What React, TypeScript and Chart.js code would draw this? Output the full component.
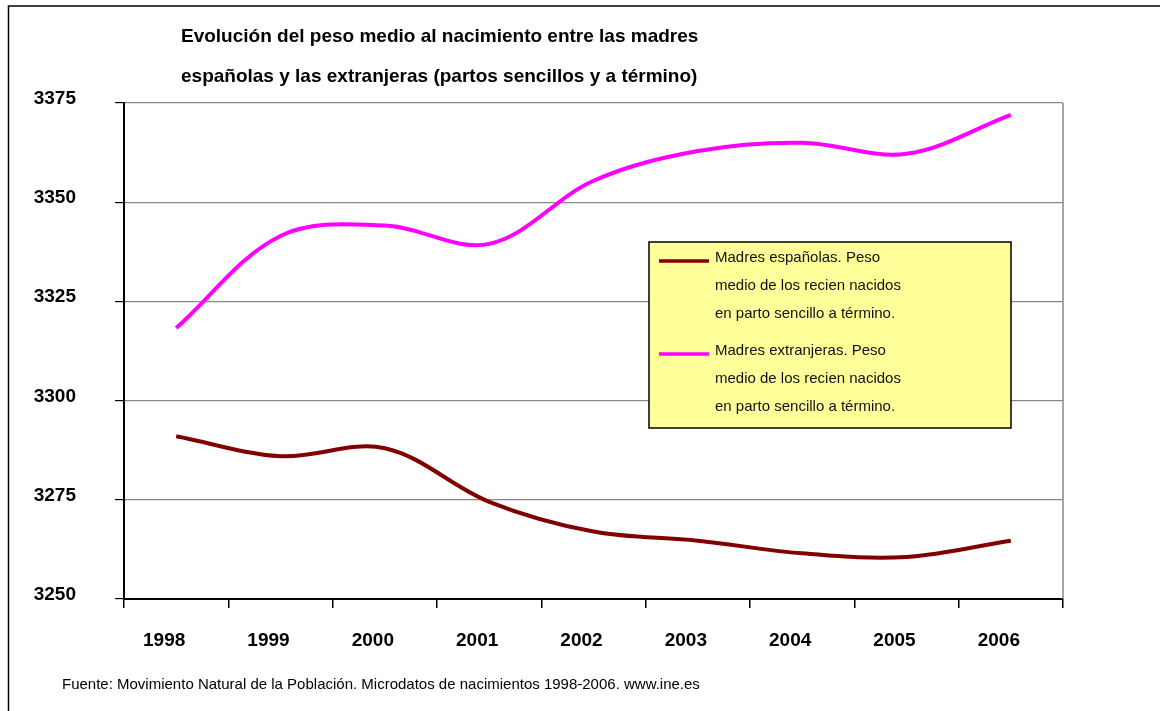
import React, { useEffect, useRef } from 'react';
import { Chart, registerables } from 'chart.js';

Chart.register(...registerables);

const categories = ['1998', '1999', '2000', '2001', '2002', '2003', '2004', '2005', '2006'];
const espanolas = [3291, 3286, 3288, 3274.5, 3267, 3264.7, 3261.5, 3260.6, 3264.7];
const extranjeras = [3318.3, 3341.5, 3344.1, 3339.5, 3355.4, 3362.9, 3365, 3362.2, 3372];
const yTicks = [3250, 3275, 3300, 3325, 3350, 3375];

const titleLines = [
  'Evolución del peso medio al nacimiento entre las madres',
  'españolas y las extranjeras (partos sencillos y a término)',
];
const legendEs = ['Madres españolas. Peso', 'medio de los recien nacidos', 'en parto sencillo a término.'];
const legendEx = ['Madres extranjeras. Peso', 'medio de los recien nacidos', 'en parto sencillo a término.'];
const footer = 'Fuente: Movimiento Natural de la Población. Microdatos de nacimientos 1998-2006. www.ine.es';

const FONT = '"Liberation Sans", Arial, sans-serif';
const COLOR_ES = '#800000';
const COLOR_EX = '#FF00FF';

const decorPlugin = {
  id: 'decor',
  afterDraw(chart: any) {
    const ctx = chart.ctx as CanvasRenderingContext2D;
    const area = chart.chartArea;
    const xs = chart.scales.x;
    const ys = chart.scales.y;
    ctx.save();

    // outer frame (top & left)
    ctx.strokeStyle = '#000';
    ctx.lineWidth = 1.5;
    ctx.beginPath();
    ctx.moveTo(8.5, 711);
    ctx.lineTo(8.5, 6);
    ctx.lineTo(1160, 6);
    ctx.stroke();

    // plot right border
    ctx.strokeStyle = '#888';
    ctx.lineWidth = 1.5;
    ctx.beginPath();
    ctx.moveTo(area.right, area.top);
    ctx.lineTo(area.right, area.bottom);
    ctx.stroke();

    // title
    ctx.fillStyle = '#000';
    ctx.font = `bold 19px ${FONT}`;
    ctx.textAlign = 'left';
    ctx.textBaseline = 'alphabetic';
    ctx.fillText(titleLines[0], 181, 42);
    ctx.fillText(titleLines[1], 181, 82);

    // y labels
    ctx.font = `bold 19px ${FONT}`;
    ctx.textAlign = 'right';
    yTicks.forEach((v) => {
      const y = ys.getPixelForValue(v);
      ctx.fillText(String(v), 76, y + 1);
    });

    // x labels
    ctx.textAlign = 'center';
    categories.forEach((c, i) => {
      const x = xs.getPixelForValue(i);
      ctx.fillText(c, x - 12, 646);
    });

    // footer
    ctx.font = `15px ${FONT}`;
    ctx.textAlign = 'left';
    ctx.fillText(footer, 62, 689);

    // legend
    const bx = 649, by = 242, bw = 362, bh = 186;
    ctx.fillStyle = '#FFFF99';
    ctx.fillRect(bx, by, bw, bh);
    ctx.strokeStyle = '#000';
    ctx.lineWidth = 1.5;
    ctx.strokeRect(bx, by, bw, bh);

    const entries = [
      { color: COLOR_ES, lines: legendEs, lineY: 261, base: 262 },
      { color: COLOR_EX, lines: legendEx, lineY: 354, base: 355 },
    ];
    entries.forEach((e) => {
      ctx.strokeStyle = e.color;
      ctx.lineWidth = 3.5;
      ctx.beginPath();
      ctx.moveTo(659, e.lineY);
      ctx.lineTo(709, e.lineY);
      ctx.stroke();
      ctx.fillStyle = '#111';
      ctx.font = `15px ${FONT}`;
      ctx.textAlign = 'left';
      e.lines.forEach((t, i) => {
        ctx.fillText(t, 715, e.base + i * 28);
      });
    });

    ctx.restore();
  },
};

export default function App() {
  const ref = useRef<HTMLCanvasElement | null>(null);

  useEffect(() => {
    if (!ref.current) return;
    const chart = new Chart(ref.current, {
      type: 'line',
      data: {
        labels: categories,
        datasets: [
          {
            label: legendEs.join(' '),
            data: espanolas,
            borderColor: COLOR_ES,
            backgroundColor: COLOR_ES,
            borderWidth: 4,
            pointRadius: 0,
            tension: 0.35,
            fill: false,
          },
          {
            label: legendEx.join(' '),
            data: extranjeras,
            borderColor: COLOR_EX,
            backgroundColor: COLOR_EX,
            borderWidth: 4,
            pointRadius: 0,
            tension: 0.35,
            fill: false,
          },
        ],
      },
      options: {
        animation: false,
        responsive: false,
        devicePixelRatio: 1,
        events: [],
        layout: { padding: { left: 115, right: 97, top: 103, bottom: 103 } },
        plugins: {
          legend: { display: false },
          title: { display: false },
          tooltip: { enabled: false },
        },
        scales: {
          x: {
            type: 'category',
            offset: true,
            grid: {
              offset: true,
              drawOnChartArea: false,
              drawTicks: true,
              tickLength: 9,
              tickColor: '#000',
              lineWidth: 1.5,
            },
            border: { display: true, color: '#000', width: 2 },
            ticks: { display: false },
          },
          y: {
            min: 3250,
            max: 3375,
            ticks: { display: false, stepSize: 25 },
            grid: {
              color: '#888',
              lineWidth: 1.2,
              tickLength: 9,
              tickColor: '#000',
            },
            border: { display: true, color: '#000', width: 2 },
          },
        },
      },
      plugins: [decorPlugin],
    });
    return () => chart.destroy();
  }, []);

  return (
    <div style={{ position: 'absolute', left: 0, top: 0, width: 1160, height: 711, overflow: 'hidden', background: '#fff' }}>
      <canvas ref={ref} width={1160} height={711} style={{ width: 1160, height: 711, display: 'block' }} />
    </div>
  );
}
